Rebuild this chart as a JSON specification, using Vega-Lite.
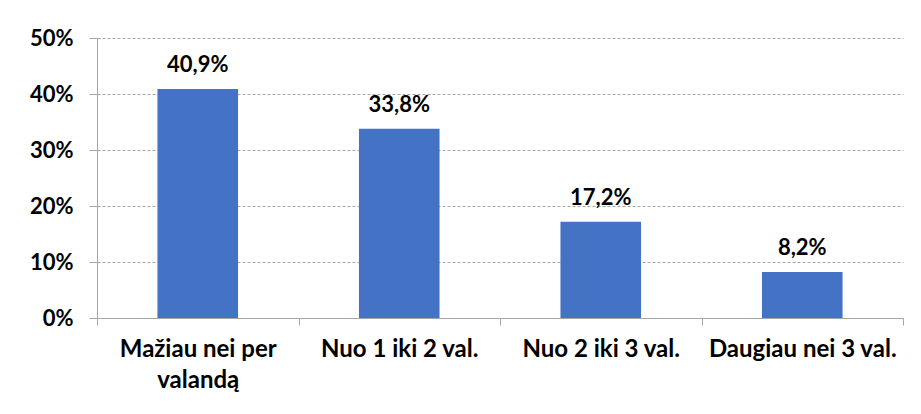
{
  "$schema": "https://vega.github.io/schema/vega-lite/v6.json",
  "autosize": {"type": "none"},
  "padding": {"left": 97, "top": 38, "right": 18, "bottom": 96},
  "width": 806,
  "height": 280,
  "background": "white",
  "config": {
    "locale": {"number": {"decimal": ",", "thousands": " ", "grouping": [3], "currency": ["", " €"]}},
    "view": {"stroke": null},
    "font": "Lato"
  },
  "data": {
    "values": [
      {"kategorija": "Mažiau nei per valandą", "dalis": 0.409},
      {"kategorija": "Nuo 1 iki 2 val.", "dalis": 0.338},
      {"kategorija": "Nuo 2 iki 3 val.", "dalis": 0.172},
      {"kategorija": "Daugiau nei 3 val.", "dalis": 0.082}
    ]
  },
  "encoding": {
    "x": {
      "field": "kategorija",
      "type": "nominal",
      "sort": null,
      "scale": {"paddingInner": 0, "paddingOuter": 0},
      "axis": {
        "title": null,
        "labelAngle": 0,
        "tickBand": "extent",
        "tickSize": 7,
        "tickColor": "#a6a6a6",
        "domainColor": "#a6a6a6",
        "labelFont": "Lato",
        "labelFontWeight": "bold",
        "labelFontSize": 24,
        "labelColor": "#000000",
        "labelPadding": 12,
        "labelLineHeight": 31,
        "labelBaseline": "top",
        "labelOverlap": false,
        "labelLimit": 0,
        "labelExpr": "datum.value == 'Mažiau nei per valandą' ? ['Mažiau nei per', 'valandą'] : datum.label",
        "grid": false
      }
    },
    "y": {
      "field": "dalis",
      "type": "quantitative",
      "scale": {"domain": [0, 0.5]},
      "axis": {
        "title": null,
        "format": ".0%",
        "values": [0, 0.1, 0.2, 0.3, 0.4, 0.5],
        "tickSize": 8,
        "tickColor": "#a6a6a6",
        "domainColor": "#a6a6a6",
        "labelFont": "Lato",
        "labelFontWeight": "bold",
        "labelFontSize": 22,
        "labelColor": "#000000",
        "labelPadding": 16,
        "labelOverlap": false,
        "grid": true,
        "gridColor": "#a6a6a6",
        "gridDash": [3, 2],
        "gridWidth": 1
      }
    }
  },
  "layer": [
    {
      "mark": {"type": "bar", "color": "#4472C4", "width": {"band": 0.4}}
    },
    {
      "mark": {"type": "text", "font": "Lato", "fontWeight": "bold", "fontSize": 22, "color": "#000000", "baseline": "alphabetic", "dy": -17},
      "encoding": {"text": {"field": "dalis", "type": "quantitative", "format": ".1%"}}
    }
  ]
}
